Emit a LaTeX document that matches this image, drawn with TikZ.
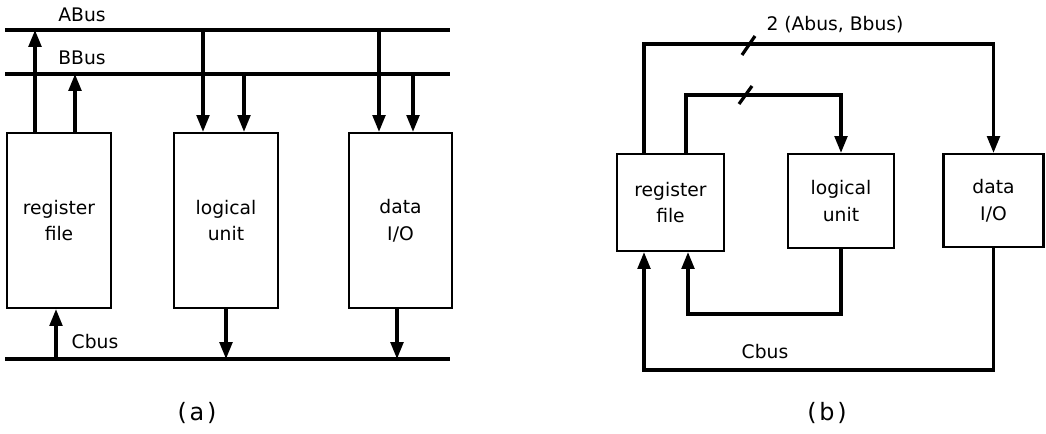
\documentclass[tikz,border=0pt]{standalone}
\usepackage{fontspec}
\setmainfont{DejaVu Sans}
\usetikzlibrary{arrows.meta,positioning}

\begin{document}
\begin{tikzpicture}[x=0.025cm,y=-0.025cm,>={Triangle[length=12pt,width=9pt]},
  font=\fontsize{13.3}{19}\selectfont,
  unit/.style={draw,line width=1.5pt,align=center,inner sep=0pt},
  bus/.style={line width=2.5pt},
  wire/.style={line width=2.3pt},
  caption/.style={font=\fontsize{17}{20}\selectfont}]
  \useasboundingbox (0,0) rectangle (1046,434);
  % (a) バス
  \coordinate (abusW) at (5,30);  \coordinate (abusE) at (450,30);
  \coordinate (bbusW) at (5,74);  \coordinate (bbusE) at (450,74);
  \coordinate (cbusW) at (5,359); \coordinate (cbusE) at (450,359);
  \draw[bus] (abusW) -- (abusE);
  \draw[bus] (bbusW) -- (bbusE);
  \draw[bus] (cbusW) -- (cbusE);
  \node (abusL) at (82,15) {ABus};
  \node (bbusL) at (82,58) {BBus};
  \node (cbusL) at (95,342) {Cbus};
  % (a) ユニット
  \node[unit,minimum width=2.6cm,minimum height=4.375cm] (regA) at (59,220.5) {register\\file};
  \node[unit,minimum width=2.6cm,minimum height=4.375cm] (logA) at (226,220.5) {logical\\unit};
  \node[unit,minimum width=2.575cm,minimum height=4.375cm] (dioA) at (400.5,220.5) {data\\I/O};
  % (a) 接続点
  \coordinate (ta1) at (35,30);  \coordinate (tb1) at (75,74);
  \coordinate (ta2) at (203,30); \coordinate (tb2) at (244,74);
  \coordinate (ta3) at (379,30); \coordinate (tb3) at (413,74);
  \coordinate (tc1) at (56,359); \coordinate (tc2) at (226,359); \coordinate (tc3) at (397,359);
  \draw[wire,->] (ta1 |- regA.north) -- (ta1);
  \draw[wire,->] (tb1 |- regA.north) -- (tb1);
  \draw[wire,->] (ta2) -- (ta2 |- logA.north);
  \draw[wire,->] (tb2) -- (tb2 |- logA.north);
  \draw[wire,->] (ta3) -- (ta3 |- dioA.north);
  \draw[wire,->] (tb3) -- (tb3 |- dioA.north);
  \draw[wire,->] (tc1) -- (tc1 |- regA.south);
  \draw[wire,->] (tc2 |- logA.south) -- (tc2);
  \draw[wire,->] (tc3 |- dioA.south) -- (tc3);
  \node[caption] (capA) at (197,413) {(\kern2pt a\kern2pt)};
  % (b) ユニット
  \node[unit,minimum width=2.675cm,minimum height=2.425cm] (regB) at (670.5,202.5) {register\\file};
  \node[unit,minimum width=2.65cm,minimum height=2.35cm] (logB) at (841,201) {logical\\unit};
  \node[unit,minimum width=2.5cm,minimum height=2.325cm] (dioB) at (993.5,200.5) {data\\I/O};
  % (b) 配線
  \coordinate (outer) at (644,44);
  \coordinate (inner) at (686,95);
  \coordinate (ret)   at (688,314);
  \coordinate (cret)  at (644,370);
  \draw[wire,->] (outer |- regB.north) -- (outer) -| (dioB.north);
  \draw[wire,->] (inner |- regB.north) -- (inner) -| (logB.north);
  \draw[wire,->] (logB.south) |- (ret) -- (ret |- regB.south);
  \draw[wire,->] (dioB.south) |- (cret) -- (cret |- regB.south);
  \draw[wire] (742,55) -- (755,36);
  \draw[wire] (739,104) -- (752,86);
  \node (busL) at (835,25) {2 (Abus, Bbus)};
  \node (cbusB) at (765,352) {Cbus};
  \node[caption] (capB) at (827,413) {(\kern2pt b\kern2pt)};
\end{tikzpicture}
\end{document}
